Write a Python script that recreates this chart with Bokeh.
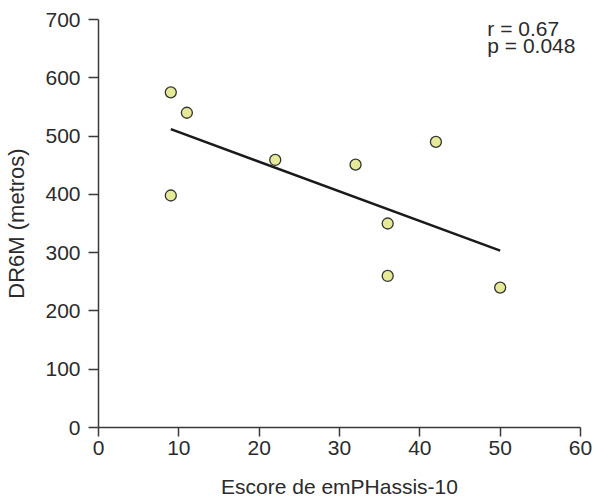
import numpy as np
from bokeh.plotting import figure
from bokeh.models import ColumnDataSource, Label, FixedTicker
from bokeh.embed import file_html
from bokeh.resources import INLINE

# Data
score = [9, 11, 22, 9, 32, 42, 36, 36, 50]
dr6m = [575, 540, 459, 398, 451, 490, 350, 260, 240]
x_ticks = [0, 10, 20, 30, 40, 50, 60]
y_ticks = [0, 100, 200, 300, 400, 500, 600, 700]
stat_lines = ["r = 0.67", "p = 0.048"]

FONT = "Liberation Sans"
TXT = "#2b2b2b"

p = figure(width=593, height=490, frame_width=482, frame_height=408,
           output_backend="svg", toolbar_location=None,
           x_range=(0, 60), y_range=(0, 700),
           min_border_left=98, min_border_right=12, min_border_top=19, min_border_bottom=60)
p.outline_line_color = None
p.grid.visible = False
p.background_fill_color = "white"
p.border_fill_color = "white"

for ax in (p.xaxis[0], p.yaxis[0]):
    ax.axis_line_color = "#3a3a3a"
    ax.axis_line_width = 1.5
    ax.major_tick_line_color = "#3a3a3a"
    ax.major_tick_line_width = 1.5
    ax.minor_tick_line_color = None
    ax.major_tick_in = 0
    ax.major_label_text_font = FONT
    ax.major_label_text_font_size = "21px"
    ax.major_label_text_color = TXT
    ax.axis_label_text_font = FONT
    ax.axis_label_text_font_size = "21px"
    ax.axis_label_text_font_style = "normal"
    ax.axis_label_text_color = TXT

p.yaxis.axis_label_text_font_size = "22px"
p.xaxis.ticker = FixedTicker(ticks=x_ticks)
p.yaxis.ticker = FixedTicker(ticks=y_ticks)
p.xaxis.major_tick_out = 9
p.yaxis.major_tick_out = 10
p.xaxis.major_label_standoff = 4
p.yaxis.major_label_standoff = 8
p.xaxis.axis_label = "Escore de emPHassis-10"
p.yaxis.axis_label = "DR6M (metros)"
p.xaxis.axis_label_standoff = 17
p.yaxis.axis_label_standoff = 13

# regression line
slope, intercept = np.polyfit(score, dr6m, 1)
xs = [min(score), max(score)]
ys = [slope * v + intercept for v in xs]
p.line(xs, ys, line_color="#1a1a1a", line_width=2.5)

src = ColumnDataSource(dict(x=score, y=dr6m))
p.scatter("x", "y", source=src, size=11, fill_color="#e6ea98",
          line_color="#333333", line_width=1.3)

p.add_layout(Label(x=48.4, y=704, text=stat_lines[0], text_font=FONT,
                   text_font_size="21px", text_color=TXT, text_baseline="top"))
p.add_layout(Label(x=48.4, y=675, text=stat_lines[1], text_font=FONT,
                   text_font_size="21px", text_color=TXT, text_baseline="top"))

open("out.html", "w").write(file_html(p, INLINE))
